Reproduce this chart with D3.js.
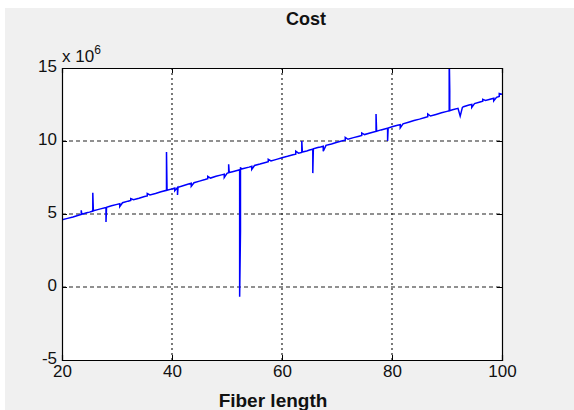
<!DOCTYPE html>
<html>
<head>
<meta charset="utf-8">
<script src="https://cdn.jsdelivr.net/npm/d3@7"></script>
<style>
  html, body { margin: 0; padding: 0; background: #fff; }
  svg { display: block; }
  text { font-family: "Liberation Sans", Arial, sans-serif; }
</style>
</head>
<body>
<script>
// ---- data (cost in units of 10^6) ----
const title = "Cost";
const xLabel = "Fiber length";
const exponentLabel = "6";
const xTicks = [20, 40, 60, 80, 100];
const yTicks = [-5, 0, 5, 10, 15];
const fiberLength = [
  20, 21, 22, 23, 23.5, 23.5, 23.6, 24.5, 25, 25.6, 25.6, 25.7, 26.5, 27, 28, 28, 28.1, 29, 30, 30.5, 30.5,
  31, 32, 32.5, 32.5, 33, 34, 35, 35.5, 35.5, 36, 37, 38, 39, 39, 39.1, 40, 40.5, 40.5, 41, 41, 41.1,
  42, 43, 43.5, 43.5, 44, 45, 46, 46.5, 46.5, 47, 48, 49, 49.5, 49.5, 50, 50.3, 50.3, 50.4, 51, 52,
  52.3, 52.3, 52.45, 52.45, 52.6, 53, 54, 54.5, 54.5, 55, 56, 57, 57.5, 57.5, 58, 59, 60, 61, 62, 62.5, 62.5,
  63, 63.6, 63.6, 63.7, 64.5, 65, 65.6, 65.6, 65.7, 66.5, 67, 67.5, 67.5, 68, 69, 70, 71, 71.5, 71.5,
  72, 73, 74, 74.5, 74.5, 75, 76, 77, 77.1, 77.1, 77.2, 78, 79, 79.2, 79.2, 79.3, 80, 81, 81.5, 81.5,
  82, 83, 84, 85, 86, 86.5, 86.5, 87, 88, 89, 90, 90.4, 90.4, 90.5, 90.5, 91, 92, 92.4, 92.8, 93, 94,
  94.5, 94.5, 95, 96, 96.5, 96.5, 97, 98, 98.5, 98.5, 99, 99.5, 99.5, 100
];
const cost = [
  4.60, 4.70, 4.80, 4.92, 4.97, 5.25, 4.98, 5.08, 5.13, 5.20, 6.45, 5.22, 5.30, 5.35, 5.45, 4.45, 5.46, 5.56, 5.66, 5.70, 5.50,
  5.77, 5.88, 5.93, 6.05, 5.98, 6.08, 6.20, 6.24, 6.40, 6.30, 6.40, 6.52, 6.62, 9.25, 6.63, 6.72, 6.78, 6.60, 6.82, 6.30, 6.83,
  6.93, 7.05, 7.10, 6.90, 7.14, 7.25, 7.36, 7.42, 7.58, 7.46, 7.58, 7.68, 7.72, 7.50, 7.78, 7.82, 8.40, 7.84, 7.90, 8.00,
  8.03, -0.66, 3.80, 8.20, 8.08, 8.12, 8.21, 8.27, 8.05, 8.32, 8.42, 8.53, 8.58, 8.75, 8.63, 8.74, 8.85, 8.95, 9.06, 9.10, 9.30,
  9.17, 9.22, 10.00, 9.24, 9.32, 9.38, 9.44, 7.80, 9.46, 9.55, 9.59, 9.64, 9.30, 9.70, 9.80, 9.91, 10.02, 10.06, 10.25,
  10.12, 10.23, 10.33, 10.38, 10.55, 10.44, 10.55, 10.65, 10.66, 11.85, 10.67, 10.76, 10.86, 10.88, 10.00, 10.89, 10.97, 11.08, 11.12, 10.90,
  11.18, 11.29, 11.40, 11.50, 11.61, 11.66, 11.85, 11.71, 11.82, 11.93, 12.03, 12.07, 16.00, 13.45, 12.08, 12.14, 12.24, 11.70, 12.30, 12.35, 12.46,
  12.50, 12.30, 12.56, 12.67, 12.72, 12.85, 12.78, 12.88, 12.93, 12.75, 12.99, 13.05, 13.25, 13.20
];

// ---- layout ----
const W = 574, H = 410;
const padL = 62, padR = 502, padT = 68, padB = 360;

const svg = d3.select("body").append("svg").attr("width", W).attr("height", H);

svg.append("rect").attr("x", 5).attr("y", 8).attr("width", W - 5).attr("height", H - 8).attr("fill", "#f0f0f0");
svg.append("rect").attr("x", padL).attr("y", padT).attr("width", padR - padL).attr("height", padB - padT).attr("fill", "#fff");

const x = d3.scaleLinear().domain([20, 100]).range([padL, padR]);
const y = d3.scaleLinear().domain([-5, 15]).range([padB, padT]);

// grid
const grid = svg.append("g");
grid.selectAll("line.gx").data(xTicks.slice(1, -1)).join("line")
  .attr("x1", d => x(d)).attr("x2", d => x(d)).attr("y1", padT).attr("y2", padB)
  .attr("stroke", "#222").attr("stroke-width", 1.2).attr("stroke-dasharray", "2,3");
grid.selectAll("line.gy").data(yTicks.slice(1, -1)).join("line")
  .attr("x1", padL).attr("x2", padR).attr("y1", d => y(d)).attr("y2", d => y(d))
  .attr("stroke", "#222").attr("stroke-width", 1.2).attr("stroke-dasharray", "4,3");

// line
svg.append("clipPath").attr("id", "clip").append("rect")
  .attr("x", padL).attr("y", padT).attr("width", padR - padL).attr("height", padB - padT);
const pts = fiberLength.map((v, i) => [v, cost[i]]);
svg.append("path").datum(pts)
  .attr("clip-path", "url(#clip)")
  .attr("fill", "none").attr("stroke", "#0000ff").attr("stroke-width", 1.5)
  .attr("d", d3.line().x(d => x(d[0])).y(d => y(d[1])));

// axes
const tickLen = 5;
const fmt = d => String(d);
const gB = svg.append("g").attr("transform", `translate(0,${padB})`)
  .call(d3.axisBottom(x).tickValues(xTicks).tickSize(-tickLen).tickPadding(5).tickFormat(fmt));
const gT = svg.append("g").attr("transform", `translate(0,${padT})`)
  .call(d3.axisTop(x).tickValues(xTicks).tickSize(-tickLen).tickFormat(""));
const gL = svg.append("g").attr("transform", `translate(${padL},0)`)
  .call(d3.axisLeft(y).tickValues(yTicks).tickSize(-tickLen).tickPadding(5).tickFormat(fmt));
const gR = svg.append("g").attr("transform", `translate(${padR},0)`)
  .call(d3.axisRight(y).tickValues(yTicks).tickSize(-tickLen).tickFormat(""));
[gB, gT, gL, gR].forEach(g => {
  g.select(".domain").attr("stroke", "#000").attr("stroke-width", 1.2);
  g.selectAll(".tick line").attr("stroke", "#000").attr("stroke-width", 1);
  g.selectAll("text").attr("font-size", 17).attr("fill", "#111")
    .attr("font-family", "Liberation Sans, Arial, sans-serif");
});
gL.selectAll("text").attr("dy", "0.22em");

// exponent label
const ex = svg.append("text").attr("x", 62).attr("y", 62).attr("font-size", 17).attr("fill", "#111");
ex.append("tspan").text("x 10");
ex.append("tspan").attr("font-size", 12).attr("dy", -8).text(exponentLabel);

// title and x label
svg.append("text").attr("x", 306).attr("y", 25).attr("text-anchor", "middle")
  .attr("font-size", 18).attr("font-weight", "bold").attr("fill", "#111").text(title);
svg.append("text").attr("x", 273).attr("y", 407).attr("text-anchor", "middle")
  .attr("font-size", 19).attr("font-weight", "bold").attr("fill", "#111").text(xLabel);
</script>
</body>
</html>
